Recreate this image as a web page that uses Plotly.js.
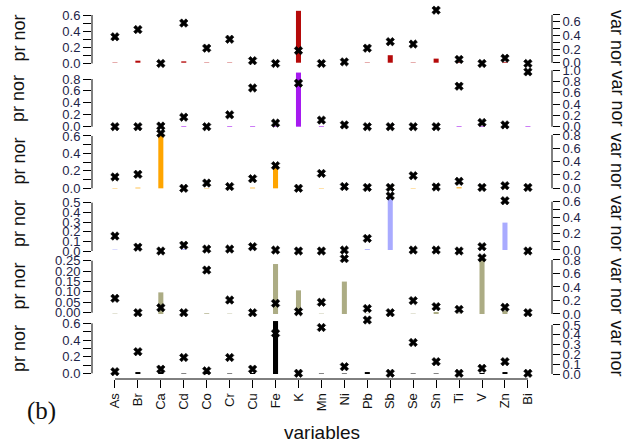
<!DOCTYPE html>
<html>
<head>
<meta charset="utf-8">
<script src="https://cdn.plot.ly/plotly-3.0.1.min.js"></script>
<style>html,body{margin:0;padding:0;background:#fff}#chart{width:637px;height:448px}</style>
</head>
<body>
<div id="chart"></div>
<script>
// ---- data ----
const categories = ['As','Br','Ca','Cd','Co','Cr','Cu','Fe','K','Mn','Ni','Pb','Sb','Se','Sn','Ti','V','Zn','Bi'];

// "pr nor" (black x markers, left axis) per panel
const pr1 = [0.33,0.42,0.00,0.50,0.19,0.30,0.035,0.00,0.16,0.00,0.02,0.19,0.27,0.24,0.66,0.05,0.00,0.065,0.00];
const pr2 = [0.00,0.00,0.01,0.16,0.00,0.20,0.65,0.06,0.73,0.11,0.03,0.00,0.00,0.00,0.00,0.68,0.07,0.03,0.92];
const pr3 = [0.13,0.16,0.63,0.00,0.06,0.02,0.11,0.26,0.00,0.17,0.02,0.01,0.01,0.145,0.015,0.08,0.01,0.03,0.01];
const pr4 = [0.155,0.04,0.00,0.06,0.02,0.02,0.045,0.01,0.00,0.00,0.01,0.13,0.57,0.01,0.01,0.00,0.045,0.52,0.00];
const pr5 = [0.069,0.00,0.024,0.00,0.205,0.061,0.00,0.045,0.005,0.05,0.26,0.02,0.00,0.058,0.029,0.016,0.264,0.026,0.00];
const pr6 = [0.02,0.26,0.05,0.19,0.03,0.19,0.05,0.48,0.00,0.55,0.08,0.64,0.00,0.37,0.14,0.00,0.06,0.14,0.00];

// "var nor" (coloured bars, right axis) per panel
const var1 = [0.005,0.03,0.005,0.02,0.005,0.005,0.005,0.005,0.76,0.005,0.01,0.005,0.11,0.005,0.06,0.01,0.005,0.01,0.005];
const var2 = [0.005,0.005,0.005,0.01,0.005,0.01,0.01,0.01,0.96,0.01,0.01,0.005,0.005,0.005,0.005,0.01,0.01,0.01,0.01];
const var3 = [0.005,0.01,0.82,0.01,0.005,0.01,0.01,0.36,0.01,0.005,0.01,0.01,0.01,0.005,0.01,0.015,0.01,0.01,0.01];
const var4 = [0.005,0.01,0.005,0.01,0.005,0.005,0.01,0.02,0.02,0.005,0.005,0.01,0.64,0.005,0.005,0.005,0.005,0.34,0.005];
const var5 = [0.005,0.005,0.32,0.005,0.01,0.005,0.005,0.74,0.35,0.005,0.48,0.005,0.005,0.005,0.03,0.005,0.82,0.05,0.005];
const var6 = [0.01,0.02,0.02,0.005,0.01,0.005,0.01,0.54,0.005,0.005,0.005,0.02,0.005,0.005,0.005,0.005,0.01,0.02,0.005];

const prSeries = [pr1,pr2,pr3,pr4,pr5,pr6];
const varSeries = [var1,var2,var3,var4,var5,var6];

const leftTitle = 'pr nor';
const rightTitle = 'var nor';
const xTitle = 'variables';
const panelTag = '(b)';

// ---- layout / style ----
const W = 637, H = 448;
const mL = 92, mR = 85, mT = 10, mB = 69;
const plotH = H - mT - mB;
const panelsPx = [[10,66],[68,129],[131,191],[193,254],[256,316],[318,379]];
const leftRanges  = [[-0.031,0.662],[-0.039,0.985],[-0.031,0.657],[-0.031,0.600],[-0.0159,0.2726],[-0.068,0.664]];
const rightRanges = [[-0.048,0.772],[-0.041,1.041],[-0.040,0.859],[-0.050,0.708],[-0.030,0.859],[-0.051,0.571]];
const barColors = ['#b50a0a','#a61af0','#ffa500','#a9abff','#acac84','#000000'];
// [max, step, labelEvery, decimals]
const leftTickSpec  = [[0.6,0.1,2,1],[0.8,0.2,1,1],[0.6,0.1,2,1],[0.5,0.1,1,1],[0.25,0.05,1,2],[0.6,0.1,2,1]];
const rightTickSpec = [[0.7,0.1,2,1],[1.0,0.2,1,1],[0.8,0.2,1,1],[0.6,0.1,2,1],[0.8,0.2,1,1],[0.5,0.1,1,1]];

function makeTicks(spec){
  const [max, step, every, dec] = spec;
  const n = Math.round(max/step);
  const vals = [], text = [];
  for (let i=0;i<=n;i++){
    const v = +(i*step).toFixed(4);
    vals.push(v);
    text.push(i % every === 0 ? v.toFixed(dec) : '');
  }
  return {vals, text, top: vals[vals.length-1]};
}

const tickFont = {family:'Liberation Sans, Arial, sans-serif', size:13, color:'#1e2448'};
const titleFont = {family:'Liberation Sans, Arial, sans-serif', size:18, color:'#111'};

const data = [];
const layout = {
  width: W, height: H,
  margin: {l:mL, r:mR, t:mT, b:mB, pad:0},
  paper_bgcolor:'#fff', plot_bgcolor:'#fff',
  showlegend:false, hovermode:false, barmode:'overlay',
  xaxis: {
    type:'category', categoryorder:'array', categoryarray:categories,
    range:[-1, 19.05], anchor:'free', position:0,
    showgrid:false, zeroline:false, showline:false,
    ticks:'outside', ticklen:8, tickwidth:1, tickcolor:'#000',
    tickangle:-90, tickfont:{family:'Liberation Sans, Arial, sans-serif', size:13, color:'#111'}
  },
  shapes: [], annotations: []
};

layout.shapes.push({type:'line', xref:'x', yref:'paper', x0:categories[0], x1:categories[categories.length-1], y0:0, y1:0, line:{color:'#000', width:1}});

for (let k=0;k<6;k++){
  const [T,B] = panelsPx[k];
  const dom = [(mT+plotH - B)/plotH, (mT+plotH - T)/plotH];
  const baseName = k===0 ? 'yaxis' : 'yaxis'+(k+1);
  const baseRef = k===0 ? 'y' : 'y'+(k+1);
  const ovName = 'yaxis'+(k+7);
  const ovRef = 'y'+(k+7);
  const rt = makeTicks(rightTickSpec[k]);
  const lt = makeTicks(leftTickSpec[k]);

  layout[baseName] = {
    domain: dom, anchor:'x', side:'right', range: rightRanges[k],
    showgrid:false, zeroline:false, showline:false,
    tickmode:'array', tickvals: rt.vals, ticktext: rt.text,
    ticks:'outside', ticklen:7, tickwidth:1, tickcolor:'#000', tickfont: tickFont
  };
  layout[ovName] = {
    overlaying: baseRef, anchor:'x', side:'left', range: leftRanges[k],
    showgrid:false, zeroline:false, showline:false,
    tickmode:'array', tickvals: lt.vals, ticktext: lt.text,
    ticks:'outside', ticklen:8, tickwidth:1, tickcolor:'#000', tickfont: tickFont
  };

  // axis lines spanning 0 .. top tick
  layout.shapes.push({type:'line', xref:'paper', yref:ovRef, x0:0, x1:0, y0:0, y1:lt.top, line:{color:'#000', width:1}});
  layout.shapes.push({type:'line', xref:'paper', yref:baseRef, x0:1, x1:1, y0:0, y1:rt.top, line:{color:'#000', width:1}});

  data.push({
    type:'bar', x:categories, y:varSeries[k], xaxis:'x', yaxis:baseRef,
    width:0.22, marker:{color:barColors[k], line:{width:0}}, base:0
  });
  data.push({
    type:'scatter', mode:'markers', x:categories, y:prSeries[k], xaxis:'x', yaxis:ovRef,
    cliponaxis:false,
    marker:{symbol:'x', size:7.5, color:'#000', line:{color:'#000', width:0.6}}
  });

  const yMid = (dom[0]+dom[1])/2;
  layout.annotations.push({xref:'paper', yref:'paper', x:(18.5-mL)/(W-mL-mR), y:yMid, text:leftTitle, textangle:-90,
    showarrow:false, xanchor:'center', yanchor:'middle', font:titleFont});
  layout.annotations.push({xref:'paper', yref:'paper', x:(617-mL)/(W-mL-mR), y:yMid, text:rightTitle, textangle:90,
    showarrow:false, xanchor:'center', yanchor:'middle', font:titleFont});
}

layout.annotations.push({xref:'paper', yref:'paper', x:(322-mL)/(W-mL-mR), y:(mT+plotH-432)/plotH, text:xTitle,
  showarrow:false, xanchor:'center', yanchor:'middle', font:{family:'Liberation Sans, Arial, sans-serif', size:19, color:'#111'}});
layout.annotations.push({xref:'paper', yref:'paper', x:(41-mL)/(W-mL-mR), y:(mT+plotH-411)/plotH, text:panelTag,
  showarrow:false, xanchor:'center', yanchor:'middle', font:{family:'Liberation Serif, Times New Roman, serif', size:25, color:'#111'}});

Plotly.newPlot('chart', data, layout, {staticPlot:true, displayModeBar:false});
</script>
</body>
</html>
